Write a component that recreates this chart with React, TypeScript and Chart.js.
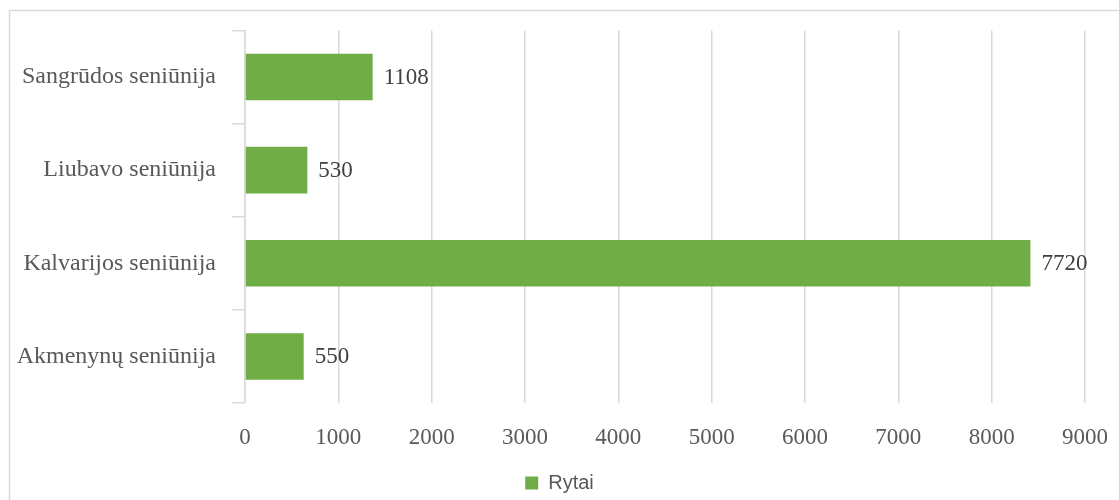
import React, { useEffect, useRef } from "react";
import { Chart, registerables } from "chart.js";

Chart.register(...registerables);

const categories = [
  "Sangrūdos seniūnija",
  "Liubavo seniūnija",
  "Kalvarijos seniūnija",
  "Akmenynų seniūnija",
];
const seriesName = "Rytai";
const barValues = [1368, 668, 8415, 629];
const dataLabels = ["1108", "530", "7720", "550"];
const xMin = 0;
const xMax = 9000;
const xStep = 1000;

const GREEN = "#70AD47";
const GRID = "#d9d9d9";

const borderPlugin = {
  id: "outerBorder",
  beforeDraw(chart: any) {
    const ctx = chart.ctx;
    ctx.save();
    ctx.strokeStyle = GRID;
    ctx.lineWidth = 1.5;
    ctx.beginPath();
    ctx.moveTo(9.5, chart.height);
    ctx.lineTo(9.5, 10.5);
    ctx.lineTo(chart.width, 10.5);
    ctx.stroke();
    ctx.restore();
  },
};

const legendCenterPlugin = {
  id: "legendCenter",
  afterLayout(chart: any) {
    const l = chart.legend;
    if (!l) return;
    l.left = 0;
    l.right = chart.width;
    l.width = chart.width;
    l.top += 3;
    l.bottom += 3;
  },
};

const labelPlugin = {
  id: "barLabels",
  afterDatasetsDraw(chart: any) {
    const ctx = chart.ctx;
    const meta = chart.getDatasetMeta(0);
    ctx.save();
    ctx.font = '23px "Liberation Serif"';
    ctx.fillStyle = "#404040";
    ctx.textAlign = "left";
    ctx.textBaseline = "middle";
    meta.data.forEach((bar: any, i: number) => {
      ctx.fillText(dataLabels[i], bar.x + 11, bar.y + 1);
    });
    ctx.restore();
  },
};

export default function App() {
  const ref = useRef<HTMLCanvasElement | null>(null);
  useEffect(() => {
    if (!ref.current) return;
    const chart = new Chart(ref.current, {
      type: "bar",
      data: {
        labels: categories,
        datasets: [
          {
            label: seriesName,
            data: barValues,
            backgroundColor: GREEN,
            borderWidth: 0,
            categoryPercentage: 0.5,
            barPercentage: 1,
          },
        ],
      },
      options: {
        indexAxis: "y",
        animation: false,
        responsive: true,
        maintainAspectRatio: false,
        layout: { padding: { top: 30, right: 34, bottom: 0, left: 0 } },
        plugins: {
          legend: {
            position: "bottom",
            labels: {
              boxWidth: 13,
              boxHeight: 13,
              padding: 10,
              color: "#595959",
              font: { family: '"Liberation Sans"', size: 20 },
            },
          },
          tooltip: { enabled: false },
        },
        scales: {
          x: {
            min: xMin,
            max: xMax,
            ticks: {
              stepSize: xStep,
              color: "#595959",
              font: { family: '"Liberation Serif"', size: 23 },
              padding: 0,
              callback: (v: any) => String(v),
            },
            grid: {
              color: GRID,
              lineWidth: 1.5,
              drawTicks: true,
              tickLength: 21,
              tickColor: "rgba(0,0,0,0)",
            },
            border: { display: false },
            afterFit(scale: any) {
              scale.height = 57;
            },
          },
          y: {
            offset: true,
            ticks: {
              color: "#595959",
              font: { family: '"Liberation Serif"', size: 24 },
              padding: 16,
            },
            grid: {
              offset: true,
              drawOnChartArea: false,
              drawTicks: true,
              tickLength: 13,
              color: GRID,
              lineWidth: 1.5,
            },
            border: { display: true, color: GRID, width: 1.5 },
            afterFit(scale: any) {
              scale.width = 245;
            },
          },
        },
      },
      plugins: [borderPlugin, legendCenterPlugin, labelPlugin],
    });
    return () => chart.destroy();
  }, []);
  return (
    <div
      style={{
        position: "absolute",
        left: 0,
        top: 0,
        width: 1119,
        height: 500,
        background: "#fff",
      }}
    >
      <canvas ref={ref} />
    </div>
  );
}
